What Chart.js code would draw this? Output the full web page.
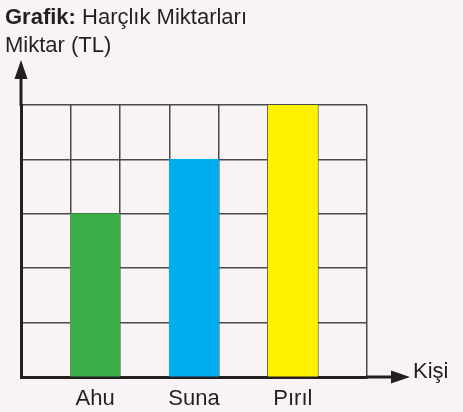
<!DOCTYPE html>
<html><head><meta charset="utf-8">
<script src="https://cdn.jsdelivr.net/npm/chart.js@4/dist/chart.umd.min.js"></script>
<style>html,body{margin:0;padding:0;background:#f9f3f5;}#wrap{width:463px;height:412px;}</style>
</head><body><div id="wrap"><canvas id="c" width="463" height="412"></canvas></div>
<script>
const categories = ['', 'Ahu', '', 'Suna', '', 'Pırıl', ''];
const values = [null, 3, null, 4, null, 5, null];
const barColors = ['#fff', '#3daf4a', '#fff', '#00aeef', '#fff', '#fff200', '#fff'];
const yTicks = [0, 1, 2, 3, 4, 5];
const titleBold = 'Grafik:';
const titleRest = ' Harçlık Miktarları';
const yTitle = 'Miktar (TL)';
const xTitle = 'Kişi';
const FONT = '"Liberation Sans", Arial, sans-serif';

const deco = {
  id: 'deco',
  beforeDraw(chart) {
    const ctx = chart.ctx;
    ctx.save();
    ctx.fillStyle = '#f9f3f5';
    ctx.fillRect(0, 0, chart.width, chart.height);
    ctx.restore();
  },
  afterDraw(chart) {
    const ctx = chart.ctx;
    const a = chart.chartArea;
    ctx.save();
    ctx.fillStyle = '#231f20';
    ctx.strokeStyle = '#231f20';
    // y axis extension + arrow
    ctx.lineWidth = 3;
    ctx.beginPath();
    ctx.moveTo(a.left, a.top + 1);
    ctx.lineTo(a.left, 74);
    ctx.stroke();
    ctx.beginPath();
    ctx.moveTo(a.left, 60);
    ctx.lineTo(a.left - 6.5, 79);
    ctx.lineTo(a.left + 6.5, 79);
    ctx.closePath();
    ctx.fill();
    // x axis extension + arrow
    ctx.beginPath();
    ctx.moveTo(a.right - 1, a.bottom);
    ctx.lineTo(400, a.bottom);
    ctx.stroke();
    ctx.beginPath();
    ctx.moveTo(410, a.bottom);
    ctx.lineTo(391, a.bottom - 6.5);
    ctx.lineTo(391, a.bottom + 6.5);
    ctx.closePath();
    ctx.fill();
    // texts
    ctx.textBaseline = 'alphabetic';
    ctx.textAlign = 'left';
    ctx.font = 'bold 22px ' + FONT;
    ctx.fillText(titleBold, 5, 24);
    const w = ctx.measureText(titleBold).width;
    ctx.font = '22px ' + FONT;
    ctx.fillText(titleRest, 5 + w, 24);
    ctx.fillText(yTitle, 5, 52);
    ctx.fillText(xTitle, 413, a.bottom + 1);
    ctx.restore();
  }
};

new Chart(document.getElementById('c'), {
  type: 'bar',
  data: {
    labels: categories,
    datasets: [{
      data: values,
      backgroundColor: barColors,
      borderWidth: 0,
      barPercentage: 1,
      categoryPercentage: 1
    }]
  },
  options: {
    responsive: false,
    animation: false,
    devicePixelRatio: 1,
    layout: { padding: { left: 21, right: 96, top: 105, bottom: 0 } },
    plugins: { legend: { display: false }, tooltip: { enabled: false }, title: { display: false } },
    scales: {
      x: {
        z: 1,
        offset: true,
        afterFit(scale) { scale.height = 35; },
        grid: { offset: true, color: '#4a4a4a', lineWidth: 1.5, drawTicks: false },
        border: { display: true, color: '#231f20', width: 3 },
        ticks: { color: '#231f20', font: { family: FONT, size: 22 }, padding: 9, autoSkip: false, maxRotation: 0 }
      },
      y: {
        z: 1,
        min: 0, max: 5,
        afterBuildTicks(scale) { scale.ticks = yTicks.map(v => ({ value: v })); },
        grid: { color: '#4a4a4a', lineWidth: 1.5, drawTicks: false },
        border: { display: true, color: '#231f20', width: 3 },
        ticks: { display: false }
      }
    }
  },
  plugins: [deco]
});
</script></body></html>
